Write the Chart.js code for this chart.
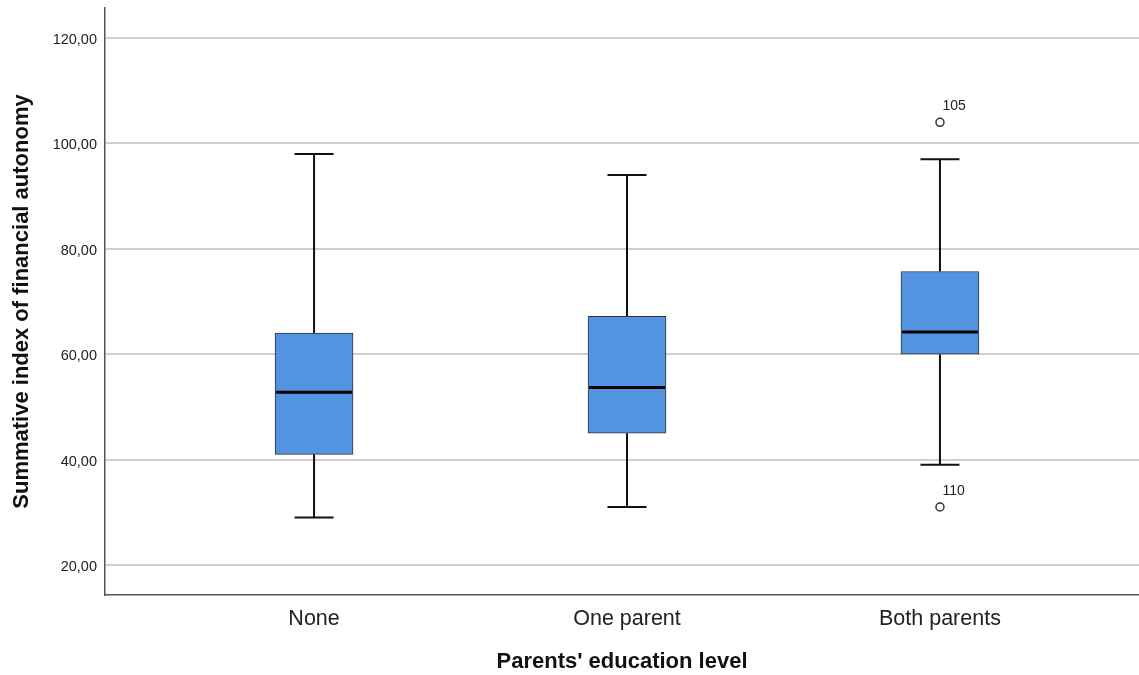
<!DOCTYPE html>
<html><head><meta charset="utf-8">
<script src="https://cdn.jsdelivr.net/npm/chart.js@4/dist/chart.umd.min.js"></script>
<style>html,body{margin:0;padding:0;background:#fff}canvas{display:block}</style>
</head><body>
<canvas id="c" width="1139" height="675"></canvas>
<script>
// ---- data ----
const categories = ['None', 'One parent', 'Both parents'];
const whiskerLow = [29, 31, 39];
const q1 = [41, 45, 60];
const median = [52.8, 53.7, 64.2];
const q3 = [64, 67.2, 75.7];
const whiskerHigh = [98, 94, 97];
const outlierCategory = [2, 2];
const outlierValues = [104, 31];
const outlierLabels = ['105', '110'];
const yTicks = [20, 40, 60, 80, 100, 120];

const FONT = "'Liberation Sans', Arial, sans-serif";

const boxPlugin = {
  id: 'boxWhiskers',
  beforeDatasetsDraw(chart) {
    const ctx = chart.ctx, xs = chart.scales.x, ys = chart.scales.y;
    const meta = chart.getDatasetMeta(0);
    ctx.save();
    ctx.strokeStyle = '#111';
    ctx.lineWidth = 2;
    categories.forEach((c, i) => {
      const x = xs.getPixelForValue(i);
      const half = meta.data[i].width / 4;
      const yHi = ys.getPixelForValue(whiskerHigh[i]);
      const yLo = ys.getPixelForValue(whiskerLow[i]);
      const yQ1 = ys.getPixelForValue(q1[i]);
      const yQ3 = ys.getPixelForValue(q3[i]);
      ctx.beginPath();
      ctx.moveTo(x, yHi); ctx.lineTo(x, yQ3);
      ctx.moveTo(x, yQ1); ctx.lineTo(x, yLo);
      ctx.moveTo(x - half, yHi); ctx.lineTo(x + half, yHi);
      ctx.moveTo(x - half, yLo); ctx.lineTo(x + half, yLo);
      ctx.stroke();
    });
    ctx.restore();
  },
  afterDatasetsDraw(chart) {
    const ctx = chart.ctx, xs = chart.scales.x, ys = chart.scales.y;
    const meta = chart.getDatasetMeta(0);
    ctx.save();
    ctx.strokeStyle = '#000';
    ctx.lineWidth = 3;
    categories.forEach((c, i) => {
      const el = meta.data[i];
      const y = ys.getPixelForValue(median[i]);
      ctx.beginPath();
      ctx.moveTo(el.x - el.width / 2 + 1, y);
      ctx.lineTo(el.x + el.width / 2 - 1, y);
      ctx.stroke();
    });
    ctx.fillStyle = '#222';
    ctx.font = '14px ' + FONT;
    ctx.textAlign = 'left';
    ctx.textBaseline = 'alphabetic';
    outlierValues.forEach((v, k) => {
      const x = xs.getPixelForValue(outlierCategory[k]);
      const y = ys.getPixelForValue(v);
      ctx.fillText(outlierLabels[k], x + 2.5, y - 12);
    });
    ctx.restore();
  }
};

new Chart(document.getElementById('c'), {
  data: {
    datasets: [
      {
        type: 'bar',
        data: categories.map((c, i) => ({ x: i, y: [q1[i], q3[i]] })),
        backgroundColor: '#5394e2',
        borderColor: '#333',
        borderWidth: 1,
        borderSkipped: false,
        barThickness: 78
      },
      {
        type: 'scatter',
        data: outlierValues.map((v, k) => ({ x: outlierCategory[k], y: v })),
        pointRadius: 4,
        pointBackgroundColor: '#fff',
        pointBorderColor: '#333',
        pointBorderWidth: 1.5
      }
    ]
  },
  options: {
    responsive: false,
    devicePixelRatio: 1,
    animation: false,
    events: [],
    layout: { autoPadding: false, padding: { top: 8, left: 0, right: 0, bottom: 0 } },
    plugins: { legend: { display: false }, tooltip: { enabled: false } },
    scales: {
      x: {
        type: 'linear',
        offset: false,
        bounds: 'ticks',
        min: -0.668,
        max: 2.636,
        afterBuildTicks(s) { s.ticks = categories.map((c, i) => ({ value: i })); },
        afterFit(s) { s.height = 80; s.paddingLeft = 0; s.paddingRight = 0; },
        grid: { display: false, drawTicks: false },
        border: { display: true, color: '#555', width: 1.5 },
        ticks: {
          autoSkip: false, maxRotation: 0, padding: 11,
          color: '#222', font: { family: FONT, size: 21.5 },
          callback: (v) => categories[v]
        },
        title: {
          display: true, text: "Parents' education level", color: '#111',
          font: { family: FONT, size: 22, weight: 'bold' },
          padding: { top: 0, bottom: 0 }
        }
      },
      y: {
        type: 'linear',
        min: 14.3,
        max: 125.7,
        afterBuildTicks(s) { s.ticks = yTicks.map(v => ({ value: v })); },
        afterFit(s) { s.width = 105; s.paddingTop = 0; s.paddingBottom = 0; },
        grid: { display: true, drawTicks: false, color: '#d0d0d0', lineWidth: 2 },
        border: { display: true, color: '#555', width: 1.5 },
        ticks: {
          padding: 8, labelOffset: 2, color: '#222', font: { family: FONT, size: 14.5 },
          callback: (v) => v.toFixed(2).replace('.', ',')
        },
        title: {
          display: true, text: 'Summative index of financial autonomy', color: '#111',
          font: { family: FONT, size: 22, weight: 'bold' },
          padding: { top: 9, bottom: 0 }
        }
      }
    }
  },
  plugins: [boxPlugin]
});
</script>
</body></html>
